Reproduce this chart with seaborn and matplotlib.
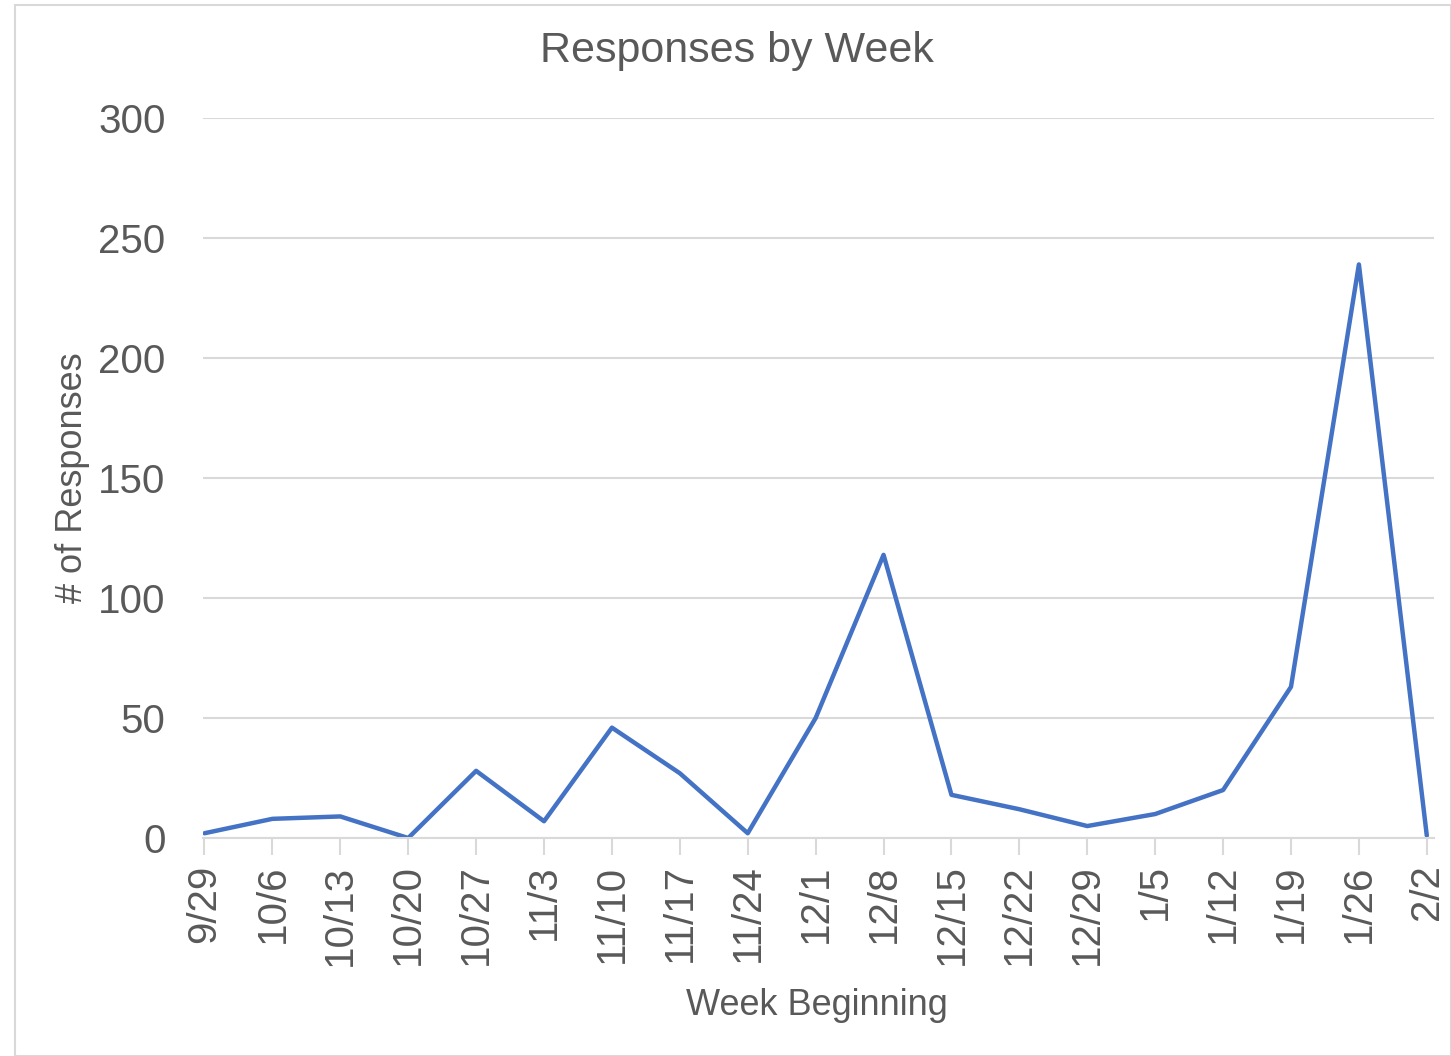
import matplotlib
matplotlib.use("Agg")
import matplotlib.pyplot as plt
import seaborn as sns
import pandas as pd

# Weekly response counts
weeks = ["9/29", "10/6", "10/13", "10/20", "10/27", "11/3", "11/10", "11/17", "11/24",
         "12/1", "12/8", "12/15", "12/22", "12/29", "1/5", "1/12", "1/19", "1/26", "2/2"]
responses = [2, 8, 9, 0, 28, 7, 46, 27, 2, 50, 118, 18, 12, 5, 10, 20, 63, 239, 1]
y_ticks = [0, 50, 100, 150, 200, 250, 300]

df = pd.DataFrame({"week": weeks, "responses": responses})
df["pos"] = range(len(df))

sns.set_theme(style="white")
plt.rcParams["font.family"] = ["Liberation Sans", "DejaVu Sans"]
grey = "#595959"

fig = plt.figure(figsize=(14.51, 10.56), dpi=100)
ax = fig.add_axes([0.140, 0.2064, 0.848, 0.6818])

sns.lineplot(data=df, x="pos", y="responses", ax=ax, color="#4472C4", linewidth=3.2)

ax.set_ylim(0, 300)
ax.set_xlim(-0.02, len(weeks) - 1 + 0.1)
ax.set_yticks(y_ticks)
ax.set_xticks(df["pos"])
ax.set_xticklabels(weeks, rotation=90)
ax.yaxis.grid(True, color="#d9d9d9", linewidth=1.5)
ax.set_axisbelow(True)

for side in ["top", "right", "left"]:
    ax.spines[side].set_visible(False)
ax.spines["bottom"].set_color("#d9d9d9")
ax.spines["bottom"].set_linewidth(1.5)

ax.tick_params(axis="x", bottom=True, length=12, width=1.5, color="#d9d9d9",
               labelsize=29, labelcolor=grey, pad=7)
ax.tick_params(axis="y", left=False, labelsize=29, labelcolor=grey, pad=21)

fig.text(0.508, 1 - 51 / 1056, "Responses by Week", fontsize=31, color=grey,
         ha="center", va="center")
ax.set_xlabel("Week Beginning", fontsize=26, color=grey)
ax.xaxis.set_label_coords(0.499, -0.208)
ax.set_ylabel("# of Responses", fontsize=26, color=grey, labelpad=6)

# chart border
fig.patches.append(plt.Rectangle((0.01, 0.0), 0.99, 0.995, transform=fig.transFigure,
                                 fill=False, edgecolor="#d9d9d9", linewidth=1.5))

fig.savefig("out.png", dpi=100)
